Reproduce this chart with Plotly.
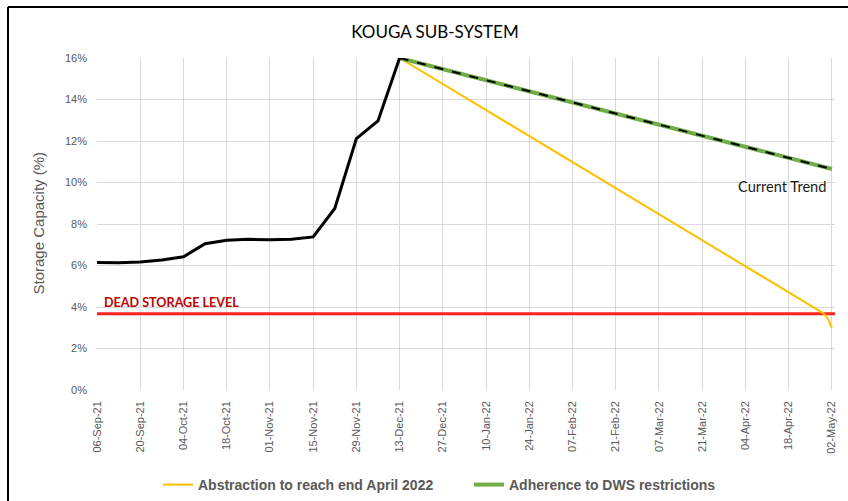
import plotly.graph_objects as go

# ---- data ----
hist_dates = ["2021-09-06", "2021-09-13", "2021-09-20", "2021-09-27", "2021-10-04",
              "2021-10-11", "2021-10-18", "2021-10-25", "2021-11-01", "2021-11-08",
              "2021-11-15", "2021-11-22", "2021-11-29", "2021-12-06", "2021-12-13"]
hist_values = [6.15, 6.13, 6.17, 6.27, 6.42, 7.05, 7.22, 7.26, 7.24, 7.27,
               7.38, 8.75, 12.12, 12.97, 16.0]

abstraction_dates = ["2021-12-13", "2022-04-29", "2022-04-30", "2022-05-01", "2022-05-02"]
abstraction_values = [16.0, 3.72, 3.58, 3.35, 3.0]

trend_dates = ["2021-12-13", "2022-05-02"]
trend_values = [16.0, 10.65]

dead_dates = ["2021-09-06", "2022-05-03"]
dead_values = [3.67, 3.67]

y_ticks = [0, 2, 4, 6, 8, 10, 12, 14, 16]
y_tick_labels = ["0%", "2%", "4%", "6%", "8%", "10%", "12%", "14%", "16%"]

title_text = "KOUGA SUB-SYSTEM"
y_title = "Storage Capacity (%)"
legend_abstraction = "Abstraction to reach end April 2022"
legend_trend = "Adherence to DWS restrictions"
dead_label = "DEAD STORAGE LEVEL"
trend_label = "Current Trend"

# ---- figure ----
W, H = 848, 501
L, R, T, B = 97, 13, 58, 111
pw, ph = W - L - R, H - T - B

def px_x(x):
    return (x - L) / pw

def px_y(y):
    return (H - B - y) / ph

fig = go.Figure()

fig.add_trace(go.Scatter(x=dead_dates, y=dead_values, mode="lines",
                         line=dict(color="#FF2020", width=3), showlegend=False,
                         hoverinfo="skip"))
fig.add_trace(go.Scatter(x=abstraction_dates, y=abstraction_values, mode="lines",
                         line=dict(color="#FFC000", width=2), name=legend_abstraction))
fig.add_trace(go.Scatter(x=trend_dates, y=trend_values, mode="lines",
                         line=dict(color="#70AD47", width=4), name=legend_trend))
fig.add_trace(go.Scatter(x=trend_dates, y=trend_values, mode="lines",
                         line=dict(color="#000000", width=2, dash="dash"),
                         showlegend=False))
fig.add_trace(go.Scatter(x=hist_dates, y=hist_values, mode="lines",
                         line=dict(color="#000000", width=3), showlegend=False))

grid = "#D9D9D9"
tick_font = dict(family="Liberation Sans, Arial, sans-serif", size=11, color="#595959")

fig.update_xaxes(
    type="date",
    range=["2021-09-06", "2022-05-03"],
    tick0="2021-09-06", dtick=14 * 24 * 3600 * 1000,
    tickformat="%d-%b-%y", tickangle=-90,
    showgrid=True, gridcolor=grid, gridwidth=1,
    showline=False, zeroline=False, automargin=False,
    tickfont=tick_font, ticks="", ticklabelstandoff=8,
)
fig.update_yaxes(
    range=[0, 16], tickmode="array", tickvals=y_ticks, ticktext=y_tick_labels,
    showgrid=True, gridcolor=grid, gridwidth=1,
    showline=False, zeroline=False, automargin=False,
    tickfont=tick_font, ticks="", ticklabelstandoff=9,
)

fig.update_layout(
    template="none",
    width=W, height=H,
    margin=dict(l=L, r=R, t=T, b=B, autoexpand=False),
    paper_bgcolor="white", plot_bgcolor="white",
    font=dict(family="Liberation Sans, Arial, sans-serif", color="#595959"),
    title=dict(text=title_text, x=435 / W, xanchor="center", y=1 - 32 / H, yanchor="middle",
               font=dict(family="Lato, Carlito, sans-serif", size=17, color="#000000")),
    showlegend=True,
    legend=dict(orientation="h", x=0.5 + 3 / pw, xanchor="center", y=px_y(485), yanchor="middle",
                font=dict(family="Liberation Sans, Arial, sans-serif", size=14, color="#595959",
                          weight="bold"),
                bgcolor="rgba(0,0,0,0)", entrywidth=266, entrywidthmode="pixels"),
    annotations=[
        dict(text=y_title, xref="paper", yref="paper", x=px_x(38), y=px_y(223.5),
             textangle=-90, showarrow=False, xanchor="center", yanchor="middle",
             font=dict(family="Liberation Sans, Arial, sans-serif", size=15, color="#595959")),
        dict(text="<b>" + dead_label + "</b>", xref="paper", yref="paper",
             x=px_x(102), y=px_y(302), xanchor="left", yanchor="middle", showarrow=False,
             font=dict(family="Lato, Carlito, sans-serif", size=12.6, color="#C00000")),
        dict(text=trend_label, xref="paper", yref="paper",
             x=px_x(782), y=px_y(186), xanchor="center", yanchor="middle", showarrow=False,
             font=dict(family="Lato, Carlito, sans-serif", size=14.6, color="#1A1A1A")),
    ],
    shapes=[
        dict(type="line", xref="paper", yref="paper", x0=px_x(8), x1=px_x(W + 2),
             y0=px_y(7), y1=px_y(7), line=dict(color="#000000", width=2)),
        dict(type="line", xref="paper", yref="paper", x0=px_x(8), x1=px_x(8),
             y0=px_y(7), y1=px_y(H + 2), line=dict(color="#000000", width=2)),
    ],
)

fig.write_html("out.html", config={"displayModeBar": False},
               post_script="document.body.style.margin='0';document.body.style.overflow='hidden';")
